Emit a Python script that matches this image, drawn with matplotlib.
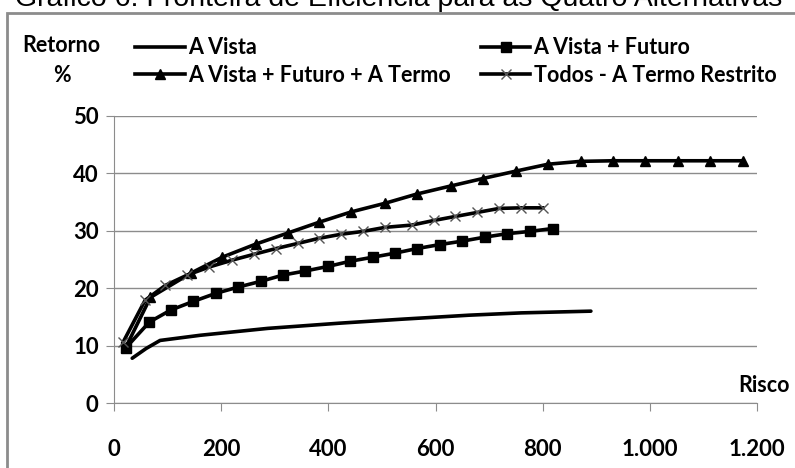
import matplotlib.pyplot as plt
from matplotlib.lines import Line2D
from matplotlib.patches import Rectangle

plt.rcParams['font.family'] = ['Lato', 'DejaVu Sans']

# A Vista (linha simples)
vista_x = [34, 60, 86, 161, 287, 420, 537, 663, 760, 890]
vista_y = [7.8, 9.5, 10.9, 11.8, 13.0, 13.9, 14.6, 15.3, 15.7, 16.0]

# A Vista + Futuro (quadrados)
futuro_x = [22, 66, 106, 148, 190, 232, 274, 316, 357, 400, 441, 483, 524,
            565, 608, 650, 692, 734, 777, 819]
futuro_y = [9.6, 14.1, 16.2, 17.7, 19.1, 20.2, 21.2, 22.3, 23.0, 23.8, 24.7,
            25.4, 26.1, 26.9, 27.6, 28.2, 28.9, 29.5, 29.9, 30.4]

# A Vista + Futuro + A Termo (triangulos)
termo_x = [22, 68, 143, 202, 265, 324, 383, 443, 506, 565, 628, 688, 750,
           810, 871, 932, 991, 1052, 1113, 1174]
termo_y = [9.7, 18.4, 22.6, 25.4, 27.7, 29.6, 31.5, 33.3, 34.8, 36.4, 37.8,
           39.1, 40.4, 41.6, 42.1, 42.2, 42.2, 42.2, 42.2, 42.2]

# Todos - A Termo Restrito (x)
todos_x = [17, 58, 96, 137, 178, 221, 261, 302, 343, 383, 424, 465, 506,
           556, 597, 637, 678, 719, 759, 800]
todos_y = [10.6, 17.9, 20.5, 22.3, 23.7, 24.9, 25.9, 26.9, 27.8, 28.7, 29.4,
           29.9, 30.6, 31.0, 31.8, 32.5, 33.2, 33.9, 34.0, 34.0]

xticks = [0, 200, 400, 600, 800, 1000, 1200]
xtick_labels = ['0', '200', '400', '600', '800', '1.000', '1.200']
yticks = [0, 10, 20, 30, 40, 50]

W, H = 795, 468
fig = plt.figure(figsize=(W / 100, H / 100), dpi=100)
ax = fig.add_axes([114 / W, 1 - 403 / H, (757 - 114) / W, (403 - 116) / H])

lw = 2.6
ax.plot(vista_x, vista_y, color='black', lw=lw, solid_capstyle='round')
ax.plot(futuro_x, futuro_y, color='black', lw=lw, marker='s', ms=7.5)
ax.plot(termo_x, termo_y, color='black', lw=lw, marker='^', ms=7.5)
ax.plot(todos_x, todos_y, color='black', lw=lw, marker='x', ms=7,
        mec='#555555', mew=1)

ax.set_xlim(0, 1200)
ax.set_ylim(0, 50)
ax.set_xticks(xticks)
ax.set_xticklabels(xtick_labels)
ax.set_yticks(yticks)
ax.yaxis.grid(True, color='#8c8c8c', lw=1)
ax.set_axisbelow(True)
for s in ['top', 'right']:
    ax.spines[s].set_visible(False)
for s in ['left', 'bottom']:
    ax.spines[s].set_color('#8c8c8c')
ax.tick_params(axis='both', colors='#8c8c8c', labelcolor='black',
               labelsize=16, length=6)
ax.tick_params(axis='x', pad=20)
ax.tick_params(axis='y', pad=5)
for lab in ax.get_xticklabels() + ax.get_yticklabels():
    lab.set_fontweight('bold')

fig.text(61 / W, 1 - 45 / H, 'Retorno', ha='center', va='center',
         fontsize=15.5, fontweight='bold')
fig.text(62 / W, 1 - 75 / H, '%', ha='center', va='center',
         fontsize=15.5, fontweight='bold')
fig.text(790 / W, 1 - 385 / H, 'Risco', ha='right', va='center',
         fontsize=15.5, fontweight='bold')

# titulo cortado no topo
fig.text(15 / W, 1 - 6 / H, 'Gráfico 6: Fronteira de Eficiência para as Quatro Alternativas',
         ha='left', va='baseline', fontsize=20.5,
         family=['Liberation Sans', 'DejaVu Sans'])

# borda do grafico
fig.patches.append(Rectangle((7 / W, -0.05), 1.2, 1 - 13 / H + 0.05,
                             transform=fig.transFigure, fill=False,
                             edgecolor='#8c8c8c', lw=2))

handles = [
    Line2D([], [], color='black', lw=lw),
    Line2D([], [], color='black', lw=lw, marker='^', ms=7.5),
    Line2D([], [], color='black', lw=lw, marker='s', ms=7.5),
    Line2D([], [], color='black', lw=lw, marker='x', ms=7, mec='#555555', mew=1),
]
labels = ['A Vista', 'A Vista + Futuro + A Termo', 'A Vista + Futuro',
          'Todos - A Termo Restrito']
leg = fig.legend(handles, labels, loc='upper left',
                 bbox_to_anchor=(118 / W, 1 - 20 / H), ncol=2, frameon=False,
                 handlelength=2.3, handletextpad=0.15, columnspacing=1.4,
                 labelspacing=0.3, borderpad=0.3,
                 prop={'size': 15.5, 'weight': 'bold'})

fig.savefig('out.png', dpi=100)
